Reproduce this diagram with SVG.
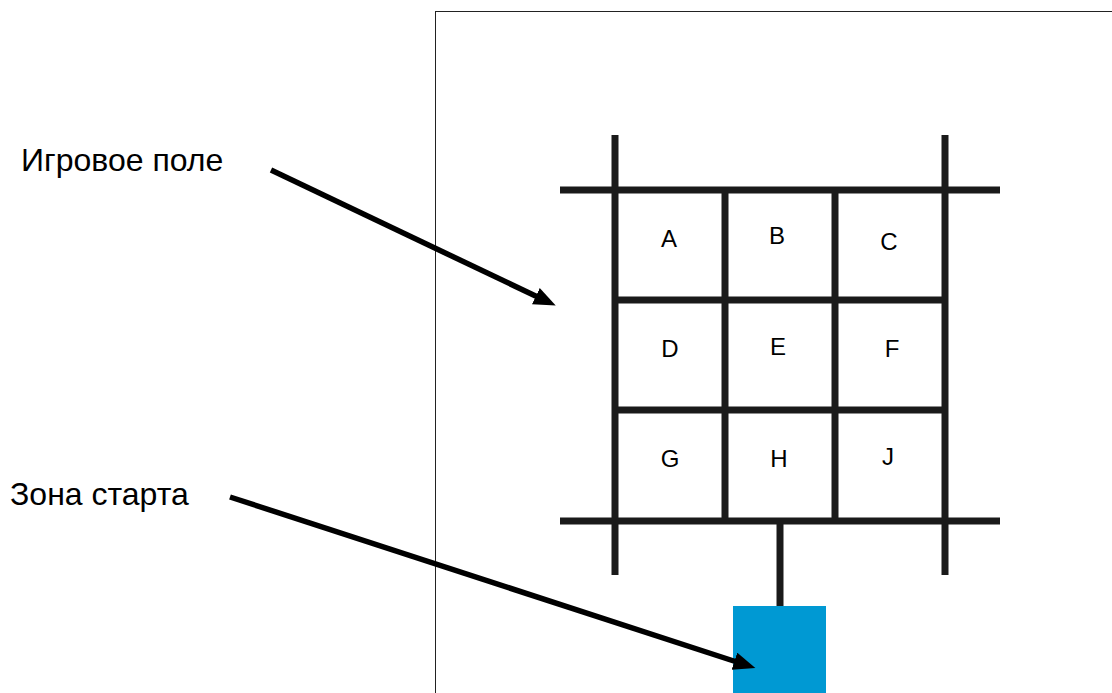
<svg xmlns="http://www.w3.org/2000/svg" width="1112" height="693" viewBox="0 0 1112 693">
  <defs>
    <style>
      .grid { stroke: #1a1a1a; stroke-width: 7; fill: none; }
      .arrow { stroke: #000; stroke-width: 5.5; fill: none; marker-end: url(#ah); }
      .cell { font-family: "Liberation Sans", Arial, sans-serif; font-size: 24px; fill: #000; text-anchor: middle; }
      .label { font-family: "Liberation Sans", Arial, sans-serif; font-size: 32px; fill: #000; }
    </style>
    <marker id="ah" markerUnits="userSpaceOnUse" markerWidth="24" markerHeight="20" refX="9" refY="9" orient="auto" viewBox="0 0 24 20">
      <path d="M0,0 L22,9 L0,18 z" fill="#000"/>
    </marker>
  </defs>
  <rect width="1112" height="693" fill="#fff"/>
  <g id="field-border">
    <rect x="435.5" y="11.5" width="720" height="720" fill="none" stroke="#222" stroke-width="1"/>
  </g>
  <g id="start-zone">
    <rect x="733" y="606" width="93" height="100" fill="#0099D3"/>
  </g>
  <g id="grid">
    <line class="grid" x1="560" y1="190" x2="1000" y2="190"/>
    <line class="grid" x1="560" y1="521" x2="1000" y2="521"/>
    <line class="grid" x1="615" y1="300" x2="945" y2="300"/>
    <line class="grid" x1="615" y1="410" x2="945" y2="410"/>
    <line class="grid" x1="615" y1="135" x2="615" y2="575"/>
    <line class="grid" x1="945" y1="135" x2="945" y2="575"/>
    <line class="grid" x1="725" y1="190" x2="725" y2="521"/>
    <line class="grid" x1="835" y1="190" x2="835" y2="521"/>
    <line class="grid" x1="780" y1="521" x2="780" y2="606"/>
  </g>
  <g id="cells">
    <g id="cell-A"><text class="cell" x="669" y="247">A</text></g>
    <g id="cell-B"><text class="cell" x="777" y="244">B</text></g>
    <g id="cell-C"><text class="cell" x="889" y="250">C</text></g>
    <g id="cell-D"><text class="cell" x="670" y="357">D</text></g>
    <g id="cell-E"><text class="cell" x="778" y="355">E</text></g>
    <g id="cell-F"><text class="cell" x="892" y="357">F</text></g>
    <g id="cell-G"><text class="cell" x="670" y="467">G</text></g>
    <g id="cell-H"><text class="cell" x="779" y="467">H</text></g>
    <g id="cell-J"><text class="cell" x="888" y="465">J</text></g>
  </g>
  <g id="label-field"><text class="label" x="21" y="171">Игровое поле</text></g>
  <g id="label-start"><text class="label" x="10" y="505">Зона старта</text></g>
  <g id="connectors">
    <line class="arrow" x1="271" y1="170" x2="544" y2="300"/>
    <line class="arrow" x1="230" y1="497" x2="743" y2="664"/>
  </g>
</svg>
